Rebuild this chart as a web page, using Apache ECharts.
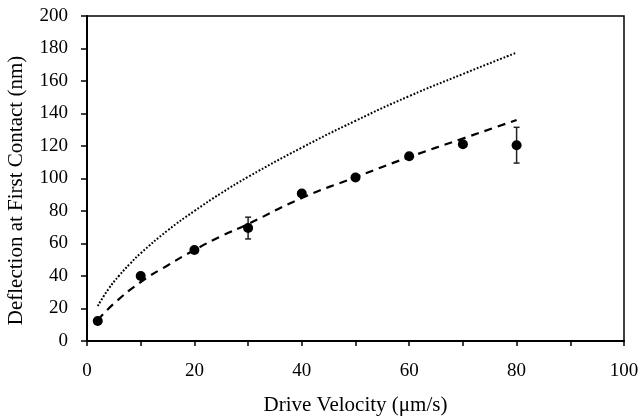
<!DOCTYPE html>
<html>
<head>
<meta charset="utf-8">
<script src="https://cdn.jsdelivr.net/npm/echarts@6/dist/echarts.min.js"></script>
<style>html,body{margin:0;padding:0;background:#fff}#c{width:642px;height:418px}</style>
</head>
<body>
<div id="c"></div>
<script>
// Measured data points
const velocity = [2, 10, 20, 30, 40, 50, 60, 70, 80];
const deflection = [12.3, 40, 56, 69.5, 90.8, 100.6, 113.7, 121.1, 120.5];
const errorBar = [0, 0, 0, 6.7, 0, 0, 0, 0, 11];
// Fit (dashed) curve
const fitX = [2, 5, 10, 15, 20, 25, 30, 40, 50, 60, 70, 80];
const fitY = [12.8, 23, 36.3, 46.5, 56, 64.5, 72, 88, 100.8, 113.2, 124.6, 136];
// Model (dotted) curve
const modelX = [2, 4, 6, 8, 10, 15, 20, 25, 30, 40, 50, 60, 70, 80];
const modelY = [21.5, 32, 40.3, 47.5, 54, 68, 80, 91, 101, 119, 135.5, 150.7, 164.3, 177.5];
const xTickLabels = ['0', '20', '40', '60', '80', '100'];

const font = 'Liberation Serif';
const chart = echarts.init(document.getElementById('c'));
chart.setOption({
  animation: false,
  textStyle: { fontFamily: font },
  grid: { left: 87, right: 18, top: 16, bottom: 77, containLabel: false, outerBoundsMode: 'none',
    show: true, borderColor: '#000', borderWidth: 1.5, backgroundColor: 'transparent' },
  xAxis: {
    type: 'value', min: 0, max: 100, interval: 10,
    name: 'Drive Velocity (\u03bcm/s)', nameLocation: 'middle', nameGap: 54,
    nameTextStyle: { fontFamily: font, fontSize: 21, color: '#000' },
    axisLine: { lineStyle: { color: '#000', width: 2 } },
    axisTick: { show: true, inside: false, length: 5, lineStyle: { color: '#000', width: 1.5 } },
    axisLabel: { margin: 21, fontFamily: font, fontSize: 19, color: '#000',
      formatter: v => xTickLabels.indexOf(String(v)) >= 0 ? String(v) : '' },
    splitLine: { show: false }
  },
  yAxis: {
    type: 'value', min: 0, max: 200, interval: 20,
    name: 'Deflection at First Contact (nm)', nameLocation: 'middle', nameGap: 60,
    nameTextStyle: { fontFamily: font, fontSize: 21, color: '#000', padding: [0, 24, 0, 0] },
    axisLine: { lineStyle: { color: '#000', width: 2 } },
    axisTick: { show: true, inside: false, length: 6, lineStyle: { color: '#000', width: 1.5 } },
    axisLabel: { margin: 19, fontFamily: font, fontSize: 19, color: '#000' },
    splitLine: { show: false }
  },
  series: [
    {
      type: 'line', data: modelX.map((x, i) => [x, modelY[i]]), smooth: true, symbol: 'none',
      lineStyle: { color: '#000', width: 2, type: [1.8, 1.8] }, z: 2
    },
    {
      type: 'line', data: fitX.map((x, i) => [x, fitY[i]]), smooth: true, symbol: 'none',
      lineStyle: { color: '#000', width: 2.2, type: [8, 6] }, z: 2
    },
    {
      type: 'custom',
      data: velocity.map((x, i) => [x, deflection[i], errorBar[i]]),
      renderItem: function (params, api) {
        const x = api.value(0), y = api.value(1), e = api.value(2);
        if (!e) return null;
        const top = api.coord([x, y + e]);
        const bot = api.coord([x, y - e]);
        const style = { stroke: '#222', lineWidth: 1.5 };
        return { type: 'group', children: [
          { type: 'line', shape: { x1: top[0], y1: top[1], x2: bot[0], y2: bot[1] }, style },
          { type: 'line', shape: { x1: top[0] - 3, y1: top[1], x2: top[0] + 3, y2: top[1] }, style },
          { type: 'line', shape: { x1: bot[0] - 3, y1: bot[1], x2: bot[0] + 3, y2: bot[1] }, style }
        ]};
      },
      z: 3
    },
    {
      type: 'scatter', data: velocity.map((x, i) => [x, deflection[i]]),
      symbol: 'circle', symbolSize: 10, itemStyle: { color: '#000', opacity: 1 }, z: 4
    }
  ]
});
</script>
</body>
</html>
